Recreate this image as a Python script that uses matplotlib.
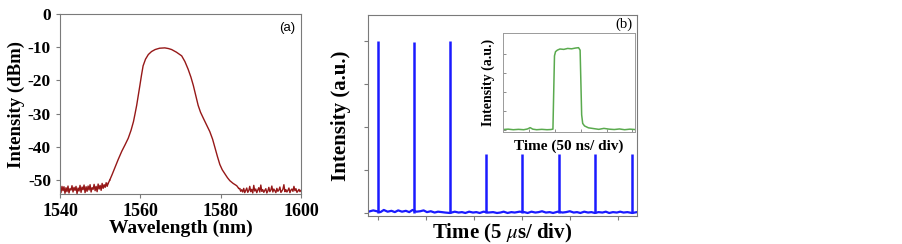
import numpy as np
import matplotlib.pyplot as plt

plt.rcParams['font.family'] = ['Liberation Serif', 'DejaVu Serif']
plt.rcParams['mathtext.fontset'] = 'stix'
plt.rcParams['axes.unicode_minus'] = False

# (a) spectrum: noise floor left, main lobe, noise floor right
wl_left = np.arange(1540.0, 1552.01, 0.25)
p_left = [-52.5, -53.8, -51.9, -53.2, -52.0, -54.0, -52.3, -53.5, -51.8, -53.9,
          -52.6, -53.0, -51.7, -53.6, -52.2, -53.1, -51.9, -54.1, -52.4, -53.3,
          -51.6, -53.7, -52.1, -52.9, -51.5, -53.8, -52.0, -53.4, -51.8, -53.0,
          -51.4, -53.6, -52.3, -52.8, -51.3, -53.2, -51.9, -53.5, -51.2, -52.7,
          -51.6, -53.1, -51.0, -52.5, -51.4, -52.2, -50.8, -51.9, -51.0]
wl_main = [1552.4, 1553.0, 1553.7, 1554.5, 1555.4, 1556.2, 1557.0, 1557.7, 1558.3,
           1558.7, 1559.1, 1559.5, 1559.9, 1560.3, 1560.7, 1561.3, 1562.0, 1562.8,
           1563.7, 1564.8, 1566.1, 1567.0, 1567.8, 1569.0, 1570.3, 1571.1, 1571.9,
           1572.6, 1573.2, 1573.8, 1574.4, 1575.0, 1575.7, 1576.5, 1577.3, 1578.0,
           1578.6, 1579.2, 1579.8, 1580.4, 1581.1, 1581.7, 1582.3, 1583.1, 1584.0,
           1584.5]
p_main = [-50.0, -48.3, -46.2, -43.8, -41.3, -39.4, -37.4, -35.0, -32.4,
          -30.0, -27.5, -24.5, -21.5, -18.4, -15.6, -13.6, -12.2, -11.3,
          -10.7, -10.3, -10.2, -10.4, -10.7, -11.5, -12.6, -14.3, -16.6,
          -19.0, -21.5, -24.5, -27.5, -29.6, -31.4, -33.4, -35.4, -37.7,
          -40.3, -42.9, -45.3, -46.9, -48.2, -49.3, -50.2, -51.0, -51.7,
          -52.5]
wl_right = np.arange(1584.75, 1600.01, 0.25)
p_right = [-52.6, -53.4, -52.9, -53.6, -52.5, -53.8, -53.1, -52.4, -53.7, -53.2,
           -51.9, -53.5, -52.8, -53.9, -51.6, -53.3, -52.7, -53.8, -53.0, -52.3,
           -53.6, -51.5, -53.4, -52.9, -53.7, -53.1, -52.6, -53.9, -53.3, -52.2,
           -53.5, -53.0, -51.8, -53.6, -52.7, -53.2, -53.8, -52.5, -53.4, -53.0,
           -52.1, -53.7, -53.3, -52.8, -51.4, -53.5, -52.9, -53.6, -53.1, -52.4,
           -53.8, -53.0, -52.7, -53.4, -51.9, -53.2, -52.6, -53.7, -53.3, -52.8,
           -53.5, -53.1]

# (b) pulse train (time in divisions)
pulse_t = [0.0, 0.74, 1.5, 2.25, 3.0, 3.77, 4.52, 5.29]
pulse_h = [4.0, 3.97, 4.0, 1.37, 1.37, 1.37, 1.37, 1.37]
base_t = [-0.2, -0.1, 0.05, 0.12, 0.2, 0.28, 0.35, 0.42, 0.5, 0.58, 0.65, 0.72,
          0.8, 0.88, 0.95, 1.02, 1.1, 1.18, 1.25, 1.33, 1.4, 1.5, 1.6, 1.68, 1.75,
          1.82, 1.9, 1.98, 2.05, 2.12, 2.2, 2.3, 2.4, 2.48, 2.55, 2.62, 2.7, 2.78,
          2.85, 2.95, 3.05, 3.12, 3.2, 3.28, 3.35, 3.42, 3.5, 3.58, 3.65, 3.75,
          3.85, 3.92, 4.0, 4.08, 4.15, 4.22, 4.3, 4.38, 4.45, 4.52, 4.6, 4.68,
          4.75, 4.82, 4.9, 4.98, 5.05, 5.12, 5.2, 5.3, 5.4]
base_v = [0.03, 0.06, 0.02, 0.07, 0.03, 0.05, 0.02, 0.06, 0.03, 0.05, 0.02, 0.07,
          0.03, 0.04, 0.06, 0.02, 0.04, 0.01, 0.03, 0.02, 0.01, 0.0, 0.03, 0.01,
          0.02, 0.0, 0.03, 0.01, 0.02, 0.0, 0.03, 0.01, 0.02, 0.0, 0.01, 0.03,
          0.0, 0.02, 0.01, 0.03, 0.02, 0.0, 0.03, 0.01, 0.02, 0.04, 0.01, 0.02,
          0.0, 0.03, 0.01, 0.02, 0.04, 0.01, 0.02, 0.0, 0.03, 0.01, 0.02, 0.0,
          0.02, 0.01, 0.03, 0.0, 0.02, 0.01, 0.03, 0.01, 0.02, 0.0, 0.02]

# inset: single pulse (time in divisions)
in_t = [0.0, 0.2, 0.4, 0.6, 0.8, 0.95, 1.05, 1.15, 1.3, 1.5, 1.7, 1.85, 1.93,
        1.96, 1.99, 2.03, 2.1, 2.2, 2.35, 2.5, 2.65, 2.8, 2.92, 2.98, 3.01, 3.04,
        3.08, 3.15, 3.3, 3.5, 3.7, 3.9, 4.1, 4.3, 4.5, 4.7, 4.9, 5.1]
in_v = [0.03, 0.05, 0.02, 0.04, 0.02, 0.06, 0.13, 0.05, 0.02, 0.04, 0.02, 0.03, 0.05,
        2.0, 3.9, 4.12, 4.2, 4.26, 4.24, 4.29, 4.27, 4.31, 4.33, 4.2, 2.5, 0.8,
        0.35, 0.22, 0.12, 0.08, 0.04, 0.09, 0.05, 0.03, 0.06, 0.02, 0.05, 0.03]

red = '#961818'
blue = '#1a1aff'
green = '#5aaa4e'
spine_col = '#7a7a7a'

fig = plt.figure(figsize=(9.03, 2.44), dpi=100)

ax1 = fig.add_axes([0.0664, 0.2049, 0.2669, 0.7377])
ax1.plot(wl_left, p_left, color=red, lw=1.0)
ax1.plot(wl_main, p_main, color=red, lw=1.0)
ax1.plot(wl_right, p_right, color=red, lw=1.0)
ax1.plot([wl_left[-1], wl_main[0]], [p_left[-1], p_main[0]], color=red, lw=1.0)
ax1.plot([wl_main[-1], wl_right[0]], [p_main[-1], p_right[0]], color=red, lw=1.0)
ax1.set_xlim(1540, 1600)
ax1.set_ylim(-54.2, 0)
ax1.set_xticks([1540, 1560, 1580, 1600])
ax1.set_yticks([0, -10, -20, -30, -40, -50])
ax1.tick_params(direction='out', length=3, width=0.8, color=spine_col)
for lab in ax1.get_xticklabels():
    lab.set_fontsize(13)
    lab.set_fontweight('bold')
for lab in ax1.get_yticklabels():
    lab.set_fontsize(12.5)
    lab.set_fontweight('bold')
ax1.set_xlabel('Wavelength (nm)', fontsize=14, fontweight='bold', labelpad=0)
ax1.set_ylabel('Intensity (dBm)', fontsize=13.5, fontweight='bold')
ax1.yaxis.set_label_coords(-0.145, 0.5)
ax1.text(0.975, 0.955, '(a)', transform=ax1.transAxes, ha='right', va='top',
         fontsize=9.5, family='Liberation Sans')
for s in ax1.spines.values():
    s.set_color(spine_col)
    s.set_linewidth(0.8)

ax2 = fig.add_axes([0.4075, 0.1148, 0.2979, 0.8238])
ax2.plot(base_t, base_v, color=blue, lw=1.6)
ax2.vlines(pulse_t, 0, pulse_h, color=blue, lw=1.8)
ax2.set_xlim(-0.21, 5.4)
ax2.set_ylim(-0.07, 4.6)
ax2.set_xticks([0, 1, 2, 3, 4, 5])
ax2.set_yticks([0, 1, 2, 3, 4])
ax2.set_xticklabels([])
ax2.set_yticklabels([])
ax2.tick_params(direction='out', length=3, width=0.8, color=spine_col)
ax2.set_xlabel(r'Time (5 $\mu$s/ div)', fontsize=15, fontweight='bold')
ax2.xaxis.set_label_coords(0.5, -0.03)
ax2.set_ylabel('Intensity (a.u.)', fontsize=15, fontweight='bold', labelpad=6)
ax2.text(0.985, 0.985, '(b)', transform=ax2.transAxes, ha='right', va='top',
         fontsize=10.5)
for s in ax2.spines.values():
    s.set_color(spine_col)
    s.set_linewidth(0.8)

ax3 = fig.add_axes([0.557, 0.459, 0.1462, 0.4057])
ax3.plot(in_t, in_v, color=green, lw=1.1)
ax3.set_xlim(0, 5.1)
ax3.set_ylim(-0.1, 5.1)
ax3.set_xticks([1, 2, 3, 4, 5])
ax3.set_yticks([0, 1, 2, 3, 4])
ax3.set_xticklabels([])
ax3.set_yticklabels([])
ax3.tick_params(direction='in', length=2, width=0.6, color=spine_col)
ax3.set_xlabel('Time (50 ns/ div)', fontsize=11, fontweight='bold', labelpad=2)
ax3.set_ylabel('Intensity (a.u.)', fontsize=10, fontweight='bold', labelpad=2)
for s in ax3.spines.values():
    s.set_color('#9a9a9a')
    s.set_linewidth(0.7)

fig.savefig('out.png', dpi=100)
